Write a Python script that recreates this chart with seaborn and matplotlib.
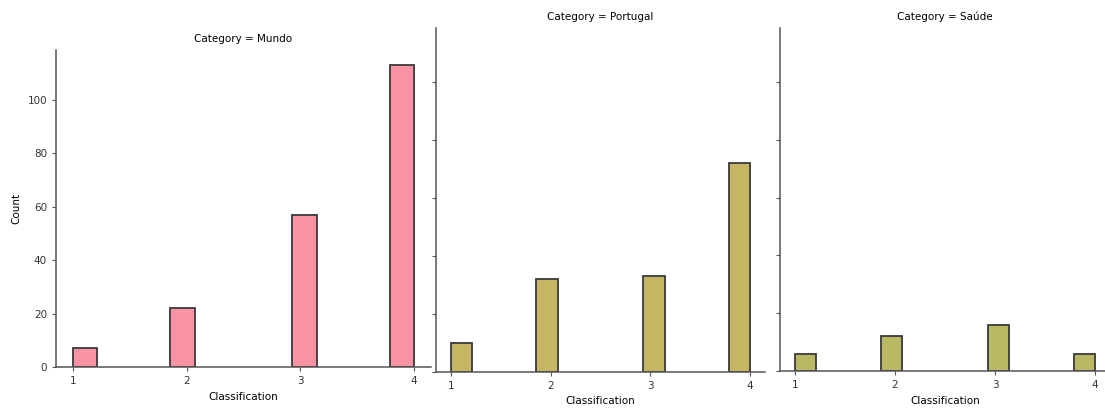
import numpy as np
import pandas as pd
import seaborn as sns
import matplotlib.pyplot as plt

# counts per classification
categories = ["Mundo", "Portugal", "Saúde"]
classes = [1, 2, 3, 4]
mundo_counts = [7, 22, 57, 113]
portugal_counts = [10, 32, 33, 72]
saude_counts = [6, 12, 16, 6]
colors = {"Mundo": "#f993a4", "Portugal": "#c6b563", "Saúde": "#bab765"}

rows = []
for cat, counts in zip(categories, [mundo_counts, portugal_counts, saude_counts]):
    for c, n in zip(classes, counts):
        rows += [(c, cat)] * n
df = pd.DataFrame(rows, columns=["Classification", "Category"])

plt.rcParams["font.family"] = ["DejaVu Sans"]
plt.rcParams["font.size"] = 7.5

g = sns.displot(data=df, x="Classification", col="Category", hue="Category",
                palette=colors, bins=14, binrange=(1, 4), alpha=1,
                edgecolor="#3a3a3a", linewidth=1.3, legend=False,
                height=4.08, aspect=0.9)
g.set_titles("Category = {col_name}", size=7.5)
g.figure.set_size_inches(11.05, 4.08)

W, H = 1105, 408
boxes = [(56, 50, 431, 367), (436, 28, 765, 371.5), (780, 28, 1110, 371)]
for ax, (l, t, r, b) in zip(g.axes.flat, boxes):
    ax.set_position([l / W, 1 - b / H, (r - l) / W, (b - t) / H])
    ax.set_xticks(classes)
    ax.tick_params(labelsize=7.5, length=3, color="#555555", labelcolor="#333333")
    for s in ax.spines.values():
        s.set_color("#555555")
        s.set_linewidth(1.1)
    # empty bins would leave an outline on the baseline
    for p in ax.patches:
        if p.get_height() == 0:
            p.set_visible(False)
    ax.xaxis.label.set_size(7.5)
    ax.yaxis.label.set_size(7.5)

g.axes.flat[0].set_ylabel("Count")
g.figure.savefig("out.png", dpi=100)
